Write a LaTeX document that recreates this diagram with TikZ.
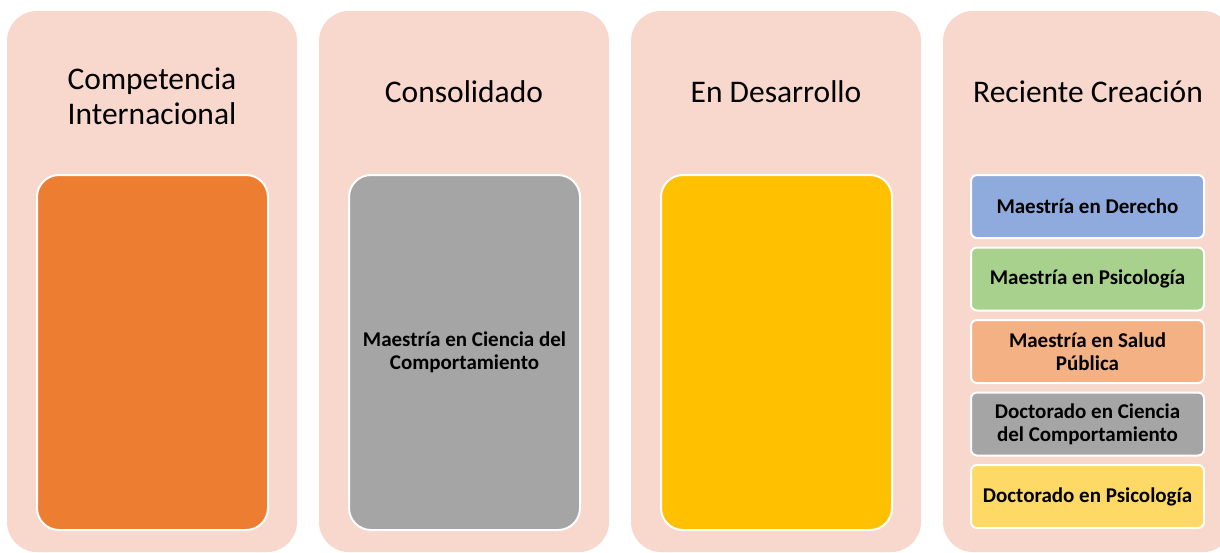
\documentclass[tikz,border=0pt]{standalone}
\usepackage{fontspec}
\setmainfont{Carlito}
\usetikzlibrary{positioning}
\definecolor{colbg}{HTML}{F8D7CC}
\definecolor{cOrange}{HTML}{ED7D31}
\definecolor{cGray}{HTML}{A5A5A5}
\definecolor{cGold}{HTML}{FFC000}
\definecolor{cBlue}{HTML}{8FAADC}
\definecolor{cGreen}{HTML}{A9D18E}
\definecolor{cPeach}{HTML}{F4B183}
\definecolor{cLemon}{HTML}{FFD966}
\tikzset{
  column/.style={fill=colbg,rounded corners=30pt,minimum width=290pt,minimum height=541pt,inner sep=0},
  title/.style={font=\fontsize{31.5}{35}\selectfont,align=center},
  bigbox/.style={draw=white,line width=2pt,rounded corners=22pt,minimum width=231pt,minimum height=355pt,font=\bfseries\fontsize{21}{23}\selectfont,align=center},
  smallbox/.style={draw=white,line width=2pt,rounded corners=6pt,minimum width=233pt,minimum height=63pt,font=\bfseries\fontsize{21}{23}\selectfont,align=center,inner sep=0}
}

\begin{document}
\begin{tikzpicture}[x=1pt,y=-1pt,node distance=7.5pt]
		\useasboundingbox (0,0) rectangle (1220,552);
		\clip (0,0) rectangle (1220,552);

		% the four columns
		\node[column] (colA) at (152,281.5) {};
		\node[column] (colB) at (464,281.5) {};
		\node[column] (colC) at (776,281.5) {};
		\node[column] (colD) at (1088,281.5) {};

		% column titles
		\node[title] (titA) at (152,96) {Competencia\\Internacional};
		\node[title] (titB) at (464,92) {Consolidado};
		\node[title] (titC) at (776,92) {En Desarrollo};
		\node[title] (titD) at (1088,92) {Reciente Creación};

		% big boxes
		\node[bigbox,fill=cOrange] (boxA) at (152.5,352.5) {};
		\node[bigbox,fill=cGray] (boxB) at (464.5,352.5) {Maestría en Ciencia del\\Comportamiento};
		\node[bigbox,fill=cGold] (boxC) at (776.5,352.5) {};

		% programmes of recent creation
		\node[smallbox,fill=cBlue] (mder) at (1087.5,206.5) {Maestría en Derecho};
		\node[smallbox,fill=cGreen,below=of mder] (mpsi) {Maestría en Psicología};
		\node[smallbox,fill=cPeach,below=of mpsi] (msal) {Maestría en Salud\\Pública};
		\node[smallbox,fill=cGray,below=of msal] (dcie) {Doctorado en Ciencia\\del Comportamiento};
		\node[smallbox,fill=cLemon,below=of dcie] (dpsi) {Doctorado en Psicología};
	\end{tikzpicture}
\end{document}
